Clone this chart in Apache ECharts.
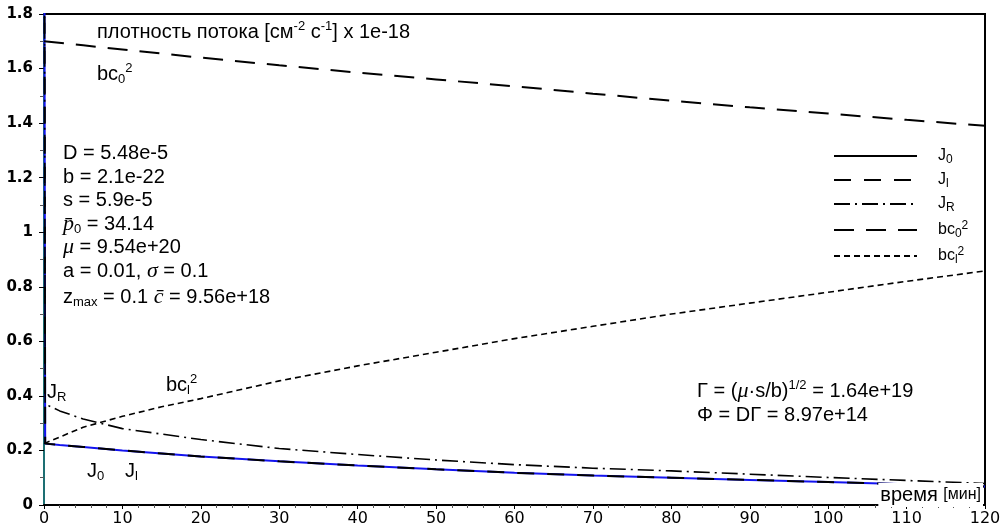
<!DOCTYPE html>
<html><head><meta charset="utf-8">
<script src="https://cdn.jsdelivr.net/npm/echarts@6/dist/echarts.min.js"></script>
<style>html,body{margin:0;padding:0;background:#fff}#c{width:1008px;height:532px}</style>
</head><body><div id="c"></div>
<script>
// time [min] for J curves (first point: singular spike at t = 0)
const tJ  = [0, 0.15, 2, 5, 10, 15, 20, 30, 40, 50, 60, 70, 80, 90, 100, 110, 120];
const J0  = [3, 0.225, 0.22, 0.213, 0.200, 0.189, 0.178, 0.160, 0.145, 0.131, 0.118, 0.108, 0.100, 0.092, 0.084, 0.076, 0.068];
const Jl  = [3, 0.225, 0.22, 0.213, 0.200, 0.189, 0.178, 0.160, 0.145, 0.131, 0.118, 0.108, 0.100, 0.092, 0.084, 0.076, 0.068];
const JR  = [3, 0.370, 0.345, 0.315, 0.280, 0.260, 0.240, 0.207, 0.185, 0.165, 0.148, 0.135, 0.125, 0.113, 0.101, 0.090, 0.079];
// time [min] for concentration curves
const tC  = [0, 5, 10, 15, 20, 30, 40, 50, 60, 70, 80, 90, 100, 110, 120];
const bc0 = [1.700, 1.685, 1.670, 1.655, 1.640, 1.612, 1.585, 1.560, 1.535, 1.508, 1.482, 1.458, 1.435, 1.412, 1.390];
const bcl = [0.225, 0.285, 0.325, 0.360, 0.390, 0.455, 0.510, 0.560, 0.610, 0.655, 0.700, 0.740, 0.780, 0.820, 0.858];
const xTicks = [0, 10, 20, 30, 40, 50, 60, 70, 80, 90, 100, 110, 120];
const yTicks = [0, 0.2, 0.4, 0.6, 0.8, 1, 1.2, 1.4, 1.6, 1.8];

const zip = (xs, ys) => xs.map((x, i) => [x, ys[i]]);
const SANS = 'Liberation Sans, Arial, sans-serif';
const SERIF = 'Liberation Serif, Times New Roman, serif';

const rich = {
  n:   {fontFamily: SANS, fontSize: 20, color: '#000', lineHeight: 24},
  i:   {fontFamily: SERIF, fontStyle: 'italic', fontSize: 22, color: '#000', lineHeight: 24},
  sup: {fontFamily: SANS, fontSize: 13, color: '#000', lineHeight: 14, verticalAlign: 'top'},
  sub: {fontFamily: SANS, fontSize: 13, color: '#000', lineHeight: 16, verticalAlign: 'bottom'},
  sm:  {fontFamily: SANS, fontSize: 16, color: '#000', lineHeight: 24}
};
function txt(x, y, text, extra) {
  return Object.assign({type: 'text', x: x, y: y, z: 100,
    style: Object.assign({text: text, rich: rich, verticalAlign: 'middle', fill: '#000'}, extra || {})});
}

const legendRich = {
  n:   {fontFamily: SANS, fontSize: 16, color: '#000', lineHeight: 20},
  sub: {fontFamily: SANS, fontSize: 12, color: '#000', lineHeight: 12, verticalAlign: 'bottom'},
  sup: {fontFamily: SANS, fontSize: 12, color: '#000', lineHeight: 12, verticalAlign: 'top'}
};
const legendLabels = {
  'J0': '{n|J}{sub|0}',
  'Jl': '{n|J}{sub|l}',
  'JR': '{n|J}{sub|R}',
  'bc0²': '{n|bc}{sub|0}{sup|2}',
  'bcl²': '{n|bc}{sub|l}{sup|2}'
};

const chart = echarts.init(document.getElementById('c'));
chart.setOption({
  animation: false,
  backgroundColor: '#fff',
  grid: {left: 44, right: 23, top: 14, bottom: 27, show: true, borderColor: '#000', borderWidth: 2},
  xAxis: {
    type: 'value', min: 0, max: 120, interval: 10,
    axisLine: {lineStyle: {color: '#000', width: 2}},
    axisTick: {show: true, length: 4, lineStyle: {color: '#000'}},
    minorTick: {show: true, splitNumber: 5, length: 3, lineStyle: {color: '#555'}},
    splitLine: {show: false},
    axisLabel: {color: '#000', fontFamily: 'DejaVu Sans', fontSize: 16, margin: 6,
      formatter: v => xTicks.includes(v) ? String(v) : ''}
  },
  yAxis: {
    type: 'value', min: 0, max: 1.8, interval: 0.2,
    axisLine: {show: true, lineStyle: {color: '#1d6f73', width: 2}},
    axisTick: {show: true, length: 5, lineStyle: {color: '#000'}},
    minorTick: {show: true, splitNumber: 2, length: 4, lineStyle: {color: '#555'}},
    splitLine: {show: false},
    axisLabel: {color: '#000', fontFamily: 'DejaVu Sans', fontWeight: 'bold', fontSize: 15, margin: 11,
      formatter: v => { const t = yTicks.find(k => Math.abs(k - v) < 1e-6); return t === undefined ? '' : String(t); }}
  },
  legend: {
    orient: 'vertical', left: 828, top: 143, itemWidth: 83, itemHeight: 14, itemGap: 6,
    selectedMode: false,
    itemStyle: {opacity: 0},
    formatter: name => legendLabels[name],
    textStyle: {rich: legendRich, padding: [0, 0, 0, 16]},
    data: [
      {name: 'J0', lineStyle: {color: '#000', width: 2}},
      {name: 'Jl'}, {name: 'JR'}, {name: 'bc0²'}, {name: 'bcl²'}
    ]
  },
  series: [
    {name: 'J0', type: 'line', data: zip(tJ, J0), symbol: 'none', showSymbol: false, clip: true, z: 2,
      itemStyle: {color: '#1414f0'}, lineStyle: {color: '#1414f0', width: 2}},
    {name: 'Jl', type: 'line', data: zip(tJ, Jl), symbol: 'none', showSymbol: false, clip: true, z: 3,
      itemStyle: {color: '#000'}, lineStyle: {color: '#000', width: 2, type: [17, 13]}},
    {name: 'JR', type: 'line', data: zip(tJ, JR), symbol: 'none', showSymbol: false, clip: true, z: 3,
      itemStyle: {color: '#000'}, lineStyle: {color: '#000', width: 1.6, type: [16, 5, 2, 5]}},
    {name: 'bc0²', type: 'line', data: zip(tC, bc0), symbol: 'none', showSymbol: false, clip: true, z: 3,
      itemStyle: {color: '#000'}, lineStyle: {color: '#000', width: 2, type: [20, 12]}},
    {name: 'bcl²', type: 'line', data: zip(tC, bcl), symbol: 'none', showSymbol: false, clip: true, z: 3,
      itemStyle: {color: '#000'}, lineStyle: {color: '#000', width: 1.6, type: [6, 4]}}
  ],
  graphic: [
    txt(97, 32, '{n|плотность потока [см}{sup|-2}{n| с}{sup|-1}{n|] x 1e-18}'),
    txt(97, 74, '{n|bc}{sub|0}{sup|2}'),
    txt(63, 153, '{n|D = 5.48e-5}'),
    txt(63, 177, '{n|b = 2.1e-22}'),
    txt(63, 200, '{n|s = 5.9e-5}'),
    txt(63, 224, '{i|p̄}{sub|0}{n| = 34.14}'),
    txt(63, 247, '{i|μ}{n| = 9.54e+20}'),
    txt(63, 271, '{n|a = 0.01, }{i|σ}{n| = 0.1}'),
    txt(63, 297, '{n|z}{sub|max}{n| = 0.1 }{i|c̄}{n| = 9.56e+18}'),
    txt(47, 392, '{n|J}{sub|R}'),
    txt(166, 385, '{n|bc}{sub|l}{sup|2}'),
    txt(87, 471, '{n|J}{sub|0}'),
    txt(125, 471, '{n|J}{sub|l}'),
    txt(697, 391, '{n|Γ = (}{i|μ}{n|·s/b)}{sup|1/2}{n| = 1.64e+19}'),
    txt(697, 415, '{n|Φ = DΓ = 8.97e+14}'),
    txt(983, 495, '{n|время }{sm|[мин]}', {align: 'right', backgroundColor: '#fff', padding: [0, 2, 0, 2]})
  ]
});
</script></body></html>
